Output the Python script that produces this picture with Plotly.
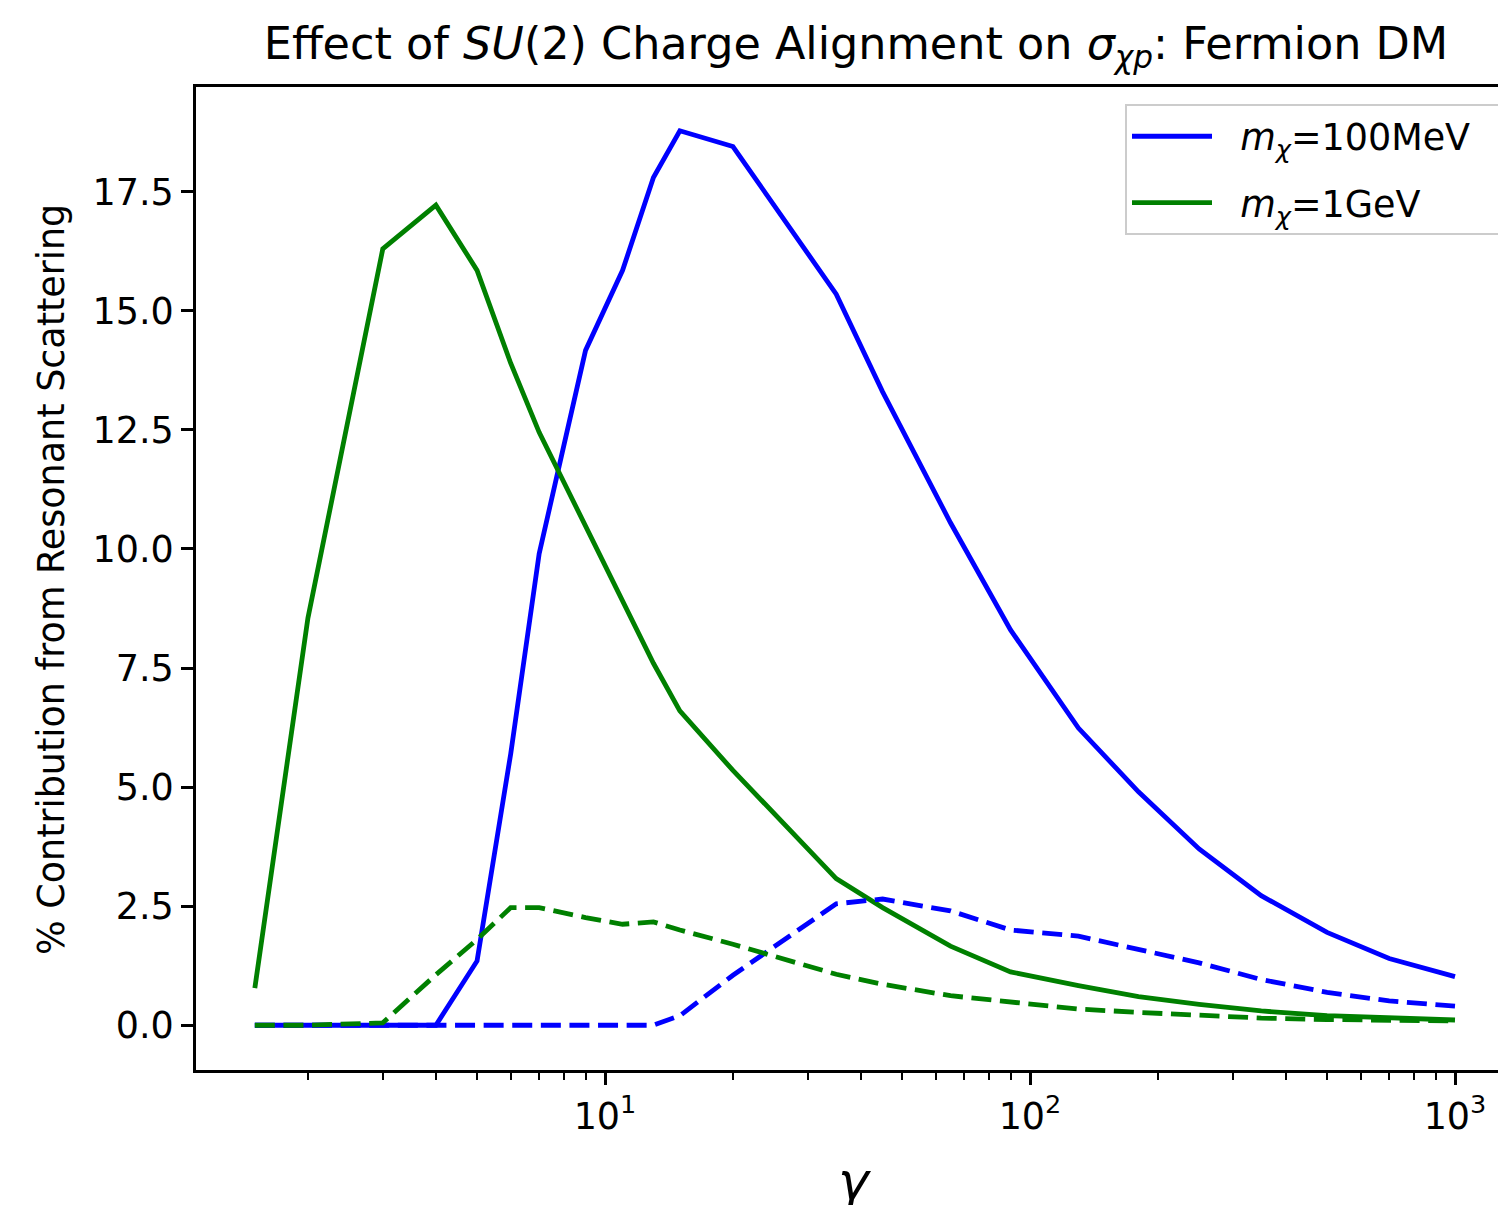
import plotly.graph_objects as go

gamma = [1.5, 2, 3, 4, 5, 6, 7, 9, 11, 13, 15, 20, 35, 45, 65, 90, 130, 180, 250, 350, 500, 700, 1000]

blue_solid = [0, 0, 0, 0, 1.35, 5.7, 9.9, 14.17, 15.85, 17.8, 18.78, 18.45, 15.35, 13.3, 10.55, 8.3, 6.24, 4.9, 3.7, 2.72, 1.95, 1.4, 1.02]
green_solid = [0.78, 8.55, 16.3, 17.22, 15.85, 13.9, 12.45, 10.5, 8.9, 7.6, 6.6, 5.35, 3.08, 2.47, 1.66, 1.12, 0.83, 0.6, 0.44, 0.3, 0.2, 0.15, 0.11]
blue_dashed = [0, 0, 0, 0, 0, 0, 0, 0, 0, 0, 0.2, 1.05, 2.55, 2.65, 2.4, 2.0, 1.87, 1.6, 1.31, 0.96, 0.69, 0.51, 0.40]
green_dashed = [0, 0, 0.05, 1.06, 1.8, 2.47, 2.47, 2.26, 2.12, 2.17, 2.0, 1.7, 1.07, 0.86, 0.62, 0.48, 0.34, 0.27, 0.2, 0.15, 0.12, 0.1, 0.09]

labels = ["<i>m</i><sub><i>χ</i></sub>=100MeV", "<i>m</i><sub><i>χ</i></sub>=1GeV"]
y_ticks = [0, 2.5, 5, 7.5, 10, 12.5, 15, 17.5]
x_ticks = [10, 100, 1000]
x_ticktext = ["10<sup>1</sup>", "10<sup>2</sup>", "10<sup>3</sup>"]
x_minor = [m * d for d in (1, 10, 100) for m in range(2, 10)]

FONT = "DejaVu Sans"
FS = 36.5
LW = 4.8
DASH = "20px,8.6px"
NB = "\u00a0"

# the page body has an 8px margin; work in page pixels and convert
OFF = 8
W, H = 1506 - OFF, 1205 - OFF
P_L, P_T, P_B, P_R = 196, 87, 1070, 1506  # plot area in page pixels
L, T = P_L - OFF, P_T - OFF
B = H - (P_B - OFF)


def px(xp):
    return (xp - P_L) / (P_R - P_L)


def py(yp):
    return (P_B - yp) / (P_B - P_T)


fig = go.Figure()
fig.add_trace(go.Scatter(x=gamma, y=blue_solid, mode="lines", line=dict(color="#0000ff", width=LW),
                         name=NB * 2 + labels[0] + NB * 2, legendgroup="a"))
fig.add_trace(go.Scatter(x=gamma, y=green_solid, mode="lines", line=dict(color="#008000", width=LW),
                         name=NB * 2 + labels[1], legendgroup="b"))
fig.add_trace(go.Scatter(x=gamma, y=blue_dashed, mode="lines", line=dict(color="#0000ff", width=LW, dash=DASH),
                         showlegend=False))
fig.add_trace(go.Scatter(x=gamma, y=green_dashed, mode="lines", line=dict(color="#008000", width=LW, dash=DASH),
                         showlegend=False))

fig.update_layout(
    width=W, height=H,
    margin=dict(l=L, r=0, t=T, b=B, pad=0),
    paper_bgcolor="white", plot_bgcolor="white",
    font=dict(family=FONT, size=FS, color="#000000"),
    showlegend=True,
    legend=dict(
        x=px(1501), y=py(104), xanchor="right", yanchor="top",
        bordercolor="#cccccc", borderwidth=2, bgcolor="rgba(255,255,255,0.8)",
        font=dict(family=FONT, size=FS), itemwidth=80, traceorder="grouped", tracegroupgap=16,
    ),
    title=dict(
        text="Effect of <i>SU</i>(2) Charge Alignment on <i>σ</i><sub><i>χp</i></sub>: Fermion DM",
        x=px(856), xref="paper", xanchor="center",
        y=1 - (43 - OFF) / H, yref="container", yanchor="middle",
        font=dict(family=FONT, size=44.5, color="#000000"),
    ),
    xaxis=dict(
        type="log", range=[1 - (605 - P_L) / 425, 1 + (P_R - 605) / 425],
        showline=True, linecolor="black", linewidth=2.8, mirror=True,
        showgrid=False, zeroline=False,
        tickmode="array", tickvals=x_ticks, ticktext=x_ticktext,
        ticks="outside", ticklen=12, tickwidth=2.8, tickcolor="black",
        tickfont=dict(family=FONT, size=FS, color="#000000"),
        minor=dict(tickmode="array", tickvals=x_minor, ticks="outside", ticklen=7, tickwidth=2.1, tickcolor="black", showgrid=False),
    ),
    yaxis=dict(
        range=[-0.94, 19.70],
        showline=True, linecolor="black", linewidth=2.8, mirror=False,
        showgrid=False, zeroline=False,
        tickmode="array", tickvals=y_ticks, ticktext=[f"{v:.1f}" for v in y_ticks],
        ticks="outside", ticklen=12, tickwidth=2.8, tickcolor="black",
        tickfont=dict(family=FONT, size=FS, color="#000000"),
    ),
    annotations=[
        dict(text="% Contribution from Resonant Scattering", textangle=-90,
             xref="paper", yref="paper", x=px(51), y=py(580),
             xanchor="center", yanchor="middle", showarrow=False,
             font=dict(family=FONT, size=FS, color="#000000")),
        dict(text="<i>γ</i>", xref="paper", yref="paper",
             x=px(855), y=py(1181),
             xanchor="center", yanchor="middle", showarrow=False,
             font=dict(family=FONT, size=52, color="#000000")),
    ],
)

fig.write_html("out.html")
